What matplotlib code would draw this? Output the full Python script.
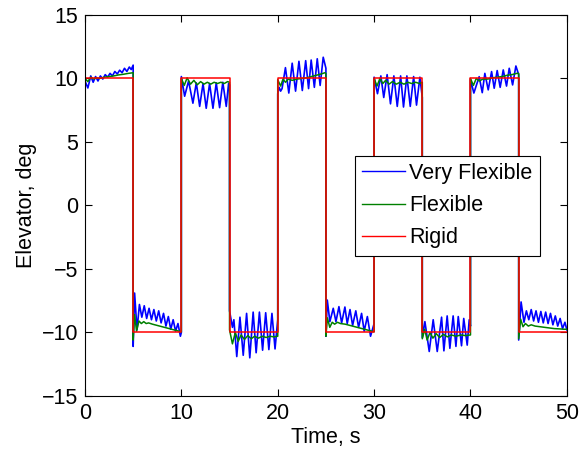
import matplotlib
matplotlib.use("Agg")
import matplotlib.pyplot as plt
import numpy as np

plt.rcParams['font.family'] = ['Liberation Sans', 'DejaVu Sans']
plt.rcParams['axes.unicode_minus'] = True

# Rigid aircraft: commanded elevator square wave (deg), switching every 5 s
rigid_switch_t = [0, 5, 10, 15, 20, 25, 30, 35, 40, 45, 50]
rigid_level = [10, -10, 10, -10, 10, -10, 10, -10, 10, -10, -10]

# Very flexible aircraft response (time in s, elevator in deg)
vflex_t = [
    0.0, 0.3, 0.6, 0.85, 1.1, 1.35, 1.6, 1.85, 2.1, 2.35, 2.6, 2.85, 3.1, 3.35,
    3.6, 3.85, 4.1, 4.35, 4.6, 4.8, 5.0,
    5.0, 5.15, 5.4, 5.65, 5.9, 6.15, 6.4, 6.65, 6.9, 7.15, 7.4, 7.65, 7.9, 8.15,
    8.4, 8.65, 8.9, 9.15, 9.4, 9.65, 9.9, 10.0,
    10.0, 10.34, 10.75, 11.2, 11.55, 11.9, 12.25, 12.58, 12.93, 13.28, 13.62,
    13.97, 14.3, 14.66, 14.9, 15.0,
    15.0, 15.3, 15.45, 15.75, 16.08, 16.42, 16.77, 17.1, 17.45, 17.76, 18.1,
    18.43, 18.75, 19.08, 19.4, 19.72, 20.0,
    20.0, 20.15, 20.3, 20.45, 20.8, 21.15, 21.5, 21.85, 22.2, 22.55, 22.9, 23.2,
    23.47, 23.8, 24.1, 24.4, 24.72, 25.0,
    25.0, 25.14, 25.41, 25.76, 26.04, 26.35, 26.63, 26.97, 27.21, 27.5, 27.77,
    28.1, 28.39, 28.7, 28.97, 29.3, 29.63, 30.0,
    30.0, 30.35, 30.7, 31.0, 31.35, 31.7, 32.05, 32.4, 32.75, 33.05, 33.4,
    33.75, 34.1, 34.4, 34.75, 35.0,
    35.0, 35.27, 35.72, 36.13, 36.55, 37.0, 37.24, 37.58, 37.86, 38.2, 38.49,
    38.73, 39.07, 39.3, 39.66, 39.87, 40.0,
    40.0, 40.35, 40.9, 41.22, 41.49, 41.84, 42.19, 42.46, 42.77, 43.08, 43.4,
    43.74, 44.02, 44.37, 44.71, 45.0,
    45.0, 45.25, 45.55, 45.8, 46.05, 46.3, 46.55, 46.8, 47.05, 47.3, 47.55,
    47.8, 48.05, 48.3, 48.55, 48.8, 49.05, 49.3, 49.55, 49.8, 50.0,
]
vflex_v = [
    9.8, 9.25, 10.2, 9.7, 10.15, 9.8, 10.2, 9.95, 10.3, 10.1, 10.4, 10.2, 10.55,
    10.35, 10.65, 10.45, 10.8, 10.55, 10.9, 10.7, 11.05,
    -11.1, -6.9, -9.8, -7.8, -8.8, -7.9, -8.9, -8.1, -9.0, -8.2, -9.1, -8.3,
    -9.25, -8.5, -9.5, -8.75, -9.75, -9.0, -9.9, -9.3, -10.3, -10.0,
    10.15, 8.6, 9.8, 8.05, 9.65, 7.8, 9.6, 7.65, 9.6, 7.65, 9.65, 7.7, 9.7,
    7.8, 9.6, 9.5,
    -8.3, -9.6, -9.0, -11.9, -8.8, -11.8, -8.5, -12.0, -8.4, -11.6, -8.4,
    -11.4, -8.45, -11.35, -8.5, -11.3, -9.0,
    8.8, 9.3, 9.0, 9.2, 10.85, 8.85, 11.2, 9.0, 11.35, 9.05, 11.4, 9.2, 11.45,
    9.3, 11.55, 9.45, 11.67, 10.8,
    -10.3, -7.45, -9.15, -8.1, -9.15, -7.97, -9.25, -8.0, -9.3, -8.2, -9.45,
    -8.3, -9.6, -8.5, -9.9, -8.75, -10.3, -9.3,
    10.1, 8.8, 10.2, 8.5, 10.3, 8.0, 10.2, 7.8, 10.2, 7.75, 10.2, 7.8, 10.15,
    7.9, 10.1, 8.5,
    -10.4, -9.15, -11.5, -9.0, -11.5, -8.8, -11.45, -8.7, -11.25, -8.7, -11.1,
    -8.75, -11.05, -8.9, -11.0, -9.0, -9.5,
    9.9, 8.85, 10.14, 8.88, 10.4, 9.1, 10.54, 9.23, 10.62, 9.3, 10.67, 9.4,
    10.8, 9.49, 10.98, 10.3,
    -10.6, -7.6, -9.2, -8.3, -9.0, -8.2, -9.1, -8.3, -9.2, -8.35, -9.25, -8.4,
    -9.3, -8.5, -9.4, -8.7, -9.5, -8.9, -9.7, -9.2, -9.8,
]

# Flexible aircraft response (time in s, elevator in deg)
flex_t = [
    0.0, 0.3, 0.6, 0.9, 1.2, 1.5, 2.0, 2.5, 3.0, 3.5, 4.0, 4.5, 5.0,
    5.0, 5.15, 5.35, 5.6, 5.85, 6.1, 6.35, 6.6, 7.0, 7.5, 8.0, 8.5, 9.0, 9.5, 10.0,
    10.0, 10.3, 10.6, 10.95, 11.3, 11.65, 12.0, 12.35, 12.7, 13.05, 13.4, 13.75,
    14.1, 14.45, 14.8, 15.0,
    15.0, 15.3, 15.6, 15.9, 16.2, 16.55, 16.9, 17.25, 17.6, 18.0, 18.4, 18.8,
    19.2, 19.6, 20.0,
    20.0, 20.3, 20.55, 20.8, 21.1, 21.5, 22.0, 22.5, 23.0, 23.5, 24.0, 24.5,
    24.9, 25.0,
    25.0, 25.15, 25.4, 25.65, 25.9, 26.2, 26.5, 27.0, 27.5, 28.0, 28.5, 29.0,
    29.5, 30.0,
    30.0, 30.3, 30.6, 30.9, 31.2, 31.55, 31.9, 32.3, 32.7, 33.1, 33.5, 33.9,
    34.3, 34.7, 35.0,
    35.0, 35.25, 35.5, 35.8, 36.1, 36.45, 36.8, 37.2, 37.6, 38.0, 38.5, 39.0,
    39.5, 40.0,
    40.0, 40.3, 40.6, 40.9, 41.3, 41.8, 42.3, 42.8, 43.3, 43.8, 44.3, 44.8, 45.0,
    45.0, 45.2, 45.45, 45.7, 46.0, 46.3, 46.7, 47.2, 47.7, 48.2, 48.7, 49.2,
    49.7, 50.0,
]
flex_v = [
    10.0, 9.75, 10.1, 9.95, 10.05, 10.0, 10.1, 10.15, 10.2, 10.28, 10.33, 10.4, 10.45,
    -10.6, -8.6, -9.9, -9.1, -9.3, -9.15, -9.3, -9.25, -9.35, -9.45, -9.55,
    -9.65, -9.75, -9.85, -9.95,
    10.0, 9.45, 10.05, 9.55, 9.85, 9.5, 9.75, 9.55, 9.7, 9.55, 9.7, 9.6, 9.7,
    9.6, 9.75, 9.7,
    -9.8, -10.9, -10.0, -10.7, -10.2, -10.55, -10.25, -10.5, -10.3, -10.45,
    -10.3, -10.4, -10.3, -10.35, -10.3,
    9.9, 9.4, 9.95, 9.7, 9.95, 9.85, 9.95, 10.0, 10.05, 10.15, 10.25, 10.35,
    10.45, 10.4,
    -10.3, -8.85, -9.6, -9.2, -9.35, -9.2, -9.3, -9.35, -9.45, -9.55, -9.65,
    -9.75, -9.85, -9.95,
    10.0, 9.4, 10.0, 9.6, 9.85, 9.55, 9.75, 9.55, 9.7, 9.55, 9.7, 9.6, 9.7,
    9.6, 9.7,
    -10.5, -9.75, -10.6, -10.0, -10.45, -10.1, -10.4, -10.15, -10.35, -10.2,
    -10.3, -10.2, -10.25, -10.2,
    10.0, 9.45, 10.0, 9.8, 9.95, 9.95, 10.05, 10.1, 10.15, 10.25, 10.3, 10.4, 10.4,
    -10.5, -8.95, -9.55, -9.3, -9.5, -9.4, -9.5, -9.55, -9.6, -9.65, -9.7,
    -9.72, -9.75, -9.75,
]

x_ticks = [0, 10, 20, 30, 40, 50]
y_ticks = [-15, -10, -5, 0, 5, 10, 15]

fig = plt.figure(figsize=(5.82, 4.53), dpi=100)
ax = fig.add_axes([0.146, 0.126, 0.828, 0.841])

ax.plot(vflex_t, vflex_v, color='#0000ff', lw=1.2, label='Very Flexible')
ax.plot(flex_t, flex_v, color='#008000', lw=1.1, label='Flexible')
ax.step(rigid_switch_t, rigid_level, where='post', color='#ff0000', lw=1.1,
        label='Rigid')

ax.set_xlim(0, 50)
ax.set_ylim(-15, 15)
ax.set_xticks(x_ticks)
ax.set_yticks(y_ticks)
ax.tick_params(direction='in', length=5, width=0.8, top=True, right=True,
               labelsize=15.5, pad=5)
for s in ax.spines.values():
    s.set_linewidth(0.8)

ax.set_xlabel('Time, s', fontsize=15.5, labelpad=2)
ax.set_ylabel('Elevator, deg', fontsize=15.5, labelpad=3)

leg = ax.legend(loc='upper left', bbox_to_anchor=(0.560, 0.630),
                fontsize=15.5, frameon=True, fancybox=False, framealpha=1,
                edgecolor='black', borderaxespad=0, handlelength=2.0,
                handletextpad=0.2, labelspacing=0.52, borderpad=0.33)
leg.get_frame().set_linewidth(0.8)
for h in leg.legend_handles:
    h.set_linewidth(1.0)

fig.savefig('out.png', dpi=100)
